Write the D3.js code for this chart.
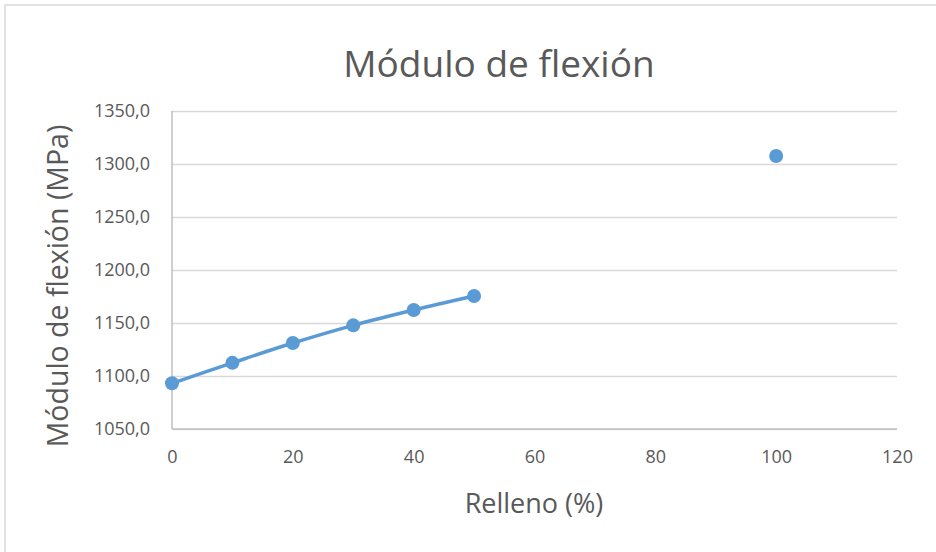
<!DOCTYPE html>
<html>
<head>
<meta charset="utf-8">
<script src="https://cdn.jsdelivr.net/npm/d3@7"></script>
<style>
  html, body { margin: 0; padding: 0; background: #ffffff; }
  svg { display: block; }
</style>
</head>
<body>
<div id="chart"></div>
<script>
// Flexural modulus vs. infill percentage
const relleno = [0, 10, 20, 30, 40, 50, 100];
const modulo = [1093.1, 1112.4, 1131.1, 1147.8, 1162.3, 1175.5, 1307.5];
// the smoothed line only runs through the consecutive measurements
const enLinea = [true, true, true, true, true, true, false];

const xTicks = [0, 20, 40, 60, 80, 100, 120];
const yTicks = [1050, 1100, 1150, 1200, 1250, 1300, 1350];

const chartTitle = "Módulo de flexión";
const xTitle = "Relleno (%)";
const yTitle = "Módulo de flexión (MPa)";

const W = 936, H = 552;
const m = { left: 172, right: 39, top: 111, bottom: 123 };

const svg = d3.select("#chart").append("svg")
  .attr("width", W).attr("height", H);

// chart frame
svg.append("rect")
  .attr("x", 5).attr("y", 5)
  .attr("width", W + 10).attr("height", H + 10)
  .attr("fill", "#fff")
  .attr("stroke", "#d9d9d9").attr("stroke-width", 1.5);

const x = d3.scaleLinear().domain([0, 120]).range([m.left, W - m.right]);
const y = d3.scaleLinear().domain([1050, 1350]).range([H - m.bottom, m.top]);

const fmt = v => d3.format(".1f")(v).replace(".", ",");
const textColor = "#595959";
const font = "'Open Sans', Calibri, sans-serif";

// horizontal gridlines + y labels
const yAxis = d3.axisLeft(y).tickValues(yTicks).tickFormat(fmt)
  .tickSize(-(W - m.right - m.left)).tickPadding(22);
const gy = svg.append("g").attr("transform", `translate(${m.left},0)`).call(yAxis);
gy.select(".domain").remove();
gy.selectAll(".tick line").attr("stroke", "#d9d9d9").attr("stroke-width", 1.5);
gy.selectAll(".tick text")
  .attr("fill", textColor).style("font-family", font).style("font-size", "18px");

// x labels
const xAxis = d3.axisBottom(x).tickValues(xTicks).tickFormat(d3.format("d"))
  .tickSize(0).tickPadding(21);
const gx = svg.append("g").attr("transform", `translate(0,${H - m.bottom})`).call(xAxis);
gx.select(".domain").remove();
gx.selectAll(".tick text")
  .attr("fill", textColor).style("font-family", font).style("font-size", "18px");

// axis lines
svg.append("line")
  .attr("x1", x(0)).attr("x2", x(0)).attr("y1", y(1350)).attr("y2", y(1050))
  .attr("stroke", "#bfbfbf").attr("stroke-width", 1.5);
svg.append("line")
  .attr("x1", x(0)).attr("x2", x(120)).attr("y1", y(1050)).attr("y2", y(1050))
  .attr("stroke", "#bfbfbf").attr("stroke-width", 1.5);

const data = relleno.map((r, i) => ({ r, v: modulo[i], on: enLinea[i] }));
const color = "#5b9bd5";

const line = d3.line()
  .defined(d => d.on)
  .x(d => x(d.r)).y(d => y(d.v))
  .curve(d3.curveCardinal.tension(0));

svg.append("path").datum(data)
  .attr("d", line)
  .attr("fill", "none").attr("stroke", color)
  .attr("stroke-width", 3.5).attr("stroke-linecap", "round");

svg.append("g").selectAll("circle").data(data).join("circle")
  .attr("cx", d => x(d.r)).attr("cy", d => y(d.v)).attr("r", 7)
  .attr("fill", color);

// titles
svg.append("text")
  .attr("x", 499).attr("y", 77).attr("text-anchor", "middle")
  .attr("fill", textColor).style("font-family", font).style("font-size", "37px")
  .text(chartTitle);

svg.append("text")
  .attr("x", 534).attr("y", 513).attr("text-anchor", "middle")
  .attr("fill", textColor).style("font-family", font).style("font-size", "27px")
  .text(xTitle);

svg.append("text")
  .attr("transform", `translate(68,${(y(1050) + y(1350)) / 2 + 16}) rotate(-90)`)
  .attr("text-anchor", "middle")
  .attr("fill", textColor).style("font-family", font).style("font-size", "28.5px")
  .text(yTitle);
</script>
</body>
</html>
